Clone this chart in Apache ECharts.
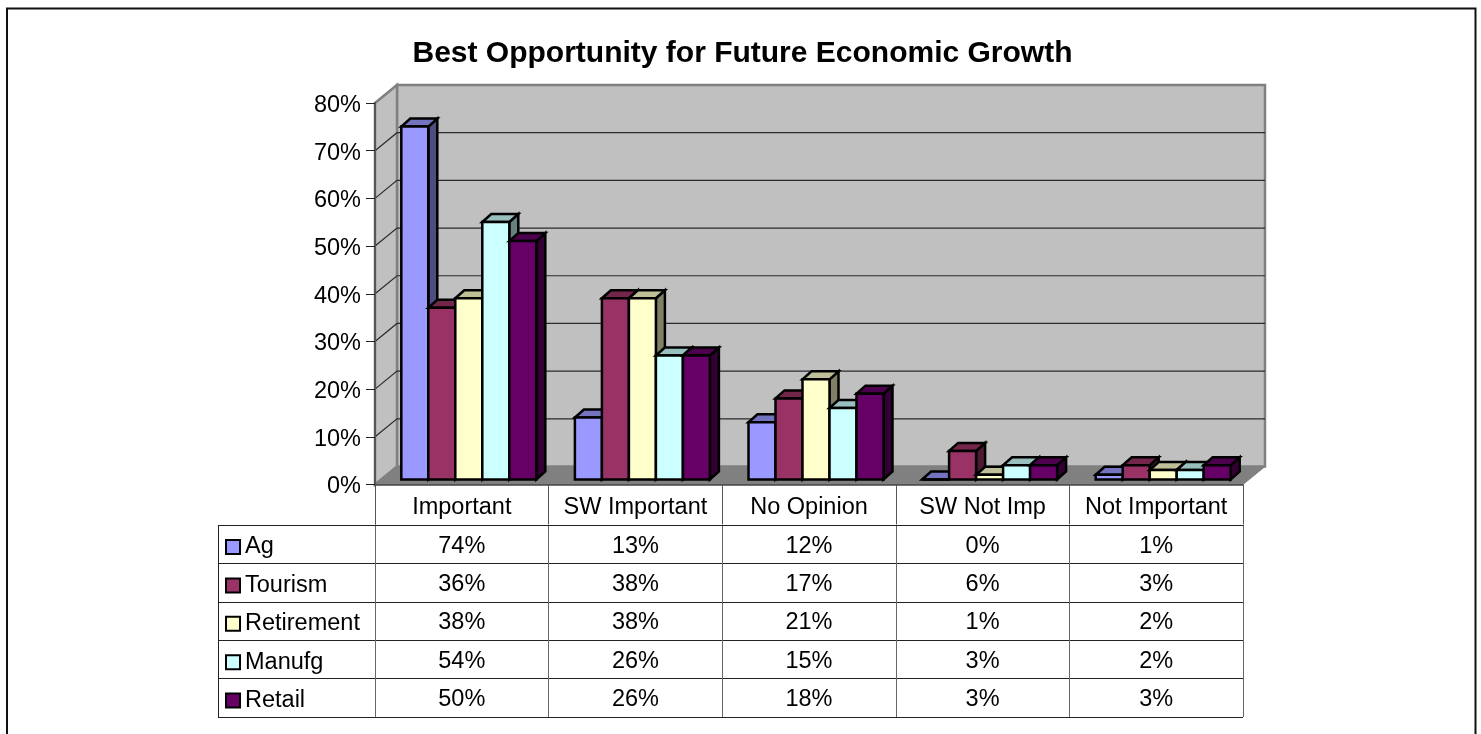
<!DOCTYPE html>
<html><head><meta charset="utf-8">
<style>html,body{margin:0;padding:0;background:#fff;overflow:hidden}#c{width:1481px;height:734px}</style>
<script src="https://cdn.jsdelivr.net/npm/echarts@6/dist/echarts.min.js"></script>
</head><body><div id="c"></div>
<script>
const titleText = 'Best Opportunity for Future Economic Growth';
const categories = ['Important','SW Important','No Opinion','SW Not Imp','Not Important'];
const seriesNames = ['Ag','Tourism','Retirement','Manufg','Retail'];
const ag = [74,13,12,0,1];
const tourism = [36,38,17,6,3];
const retirement = [38,38,21,1,2];
const manufg = [54,26,15,3,2];
const retail = [50,26,18,3,3];
const values = [ag,tourism,retirement,manufg,retail];
const yTicks = [0,10,20,30,40,50,60,70,80];
const faceColors = ['#9999FF','#993366','#FFFFCC','#CCFFFF','#660066'];
const topColors = ['#7373BF','#732649','#BFBF99','#99BFBF','#4D004D'];
const sideColors = ['#4D4D80','#4D1A33','#808066','#668080','#330033'];

const FONT = '"Liberation Sans", Arial, sans-serif';
const FS = 23.5;
const G = {left:375, top:103, width:868, height:381.5};
const T = {left:375, top:525, width:868, height:192};
const wallD = [22,-18], barOff = [7,-5], barD = [9,-8], barW = 27;

function pts(a){return a.map(p=>[p[0],p[1]]);}
function poly(points,fill,stroke,lw){
  return {type:'polygon',shape:{points:pts(points)},style:{fill:fill,stroke:stroke,lineWidth:lw,lineJoin:'miter'}};
}
function renderWalls(params,api){
  const x0 = params.coordSys.x, x1 = x0+params.coordSys.width;
  const yb = api.coord([0,0])[1], yt = api.coord([0,80])[1];
  const dx=wallD[0], dy=wallD[1], ch=[];
  ch.push(poly([[x0+dx,yt+dy],[x1+dx,yt+dy],[x1+dx,yb+dy],[x0+dx,yb+dy]],'#C0C0C0','#808080',2.5));
  ch.push(poly([[x0,yt],[x0+dx,yt+dy],[x0+dx,yb+dy],[x0,yb]],'#C0C0C0','#808080',2.5));
  ch.push(poly([[x0,yb],[x0+dx,yb+dy],[x1+dx,yb+dy],[x1,yb]],'#808080','#808080',1));
  yTicks.slice(1,-1).forEach(v=>{
    const y=api.coord([0,v])[1];
    ch.push({type:'polyline',shape:{points:[[x0,y],[x0+dx,y+dy],[x1+dx,y+dy]]},style:{fill:null,stroke:'#2b2b2b',lineWidth:1.2}});
  });
  return {type:'group',children:ch};
}
function barRenderer(si){
  return function(params,api){
    const cat=api.value(0), val=api.value(1);
    const bandW=api.size([1,0])[0];
    const base=api.coord([cat,0]), top=api.coord([cat,val]);
    const x=base[0]-bandW/2+19.3+barOff[0]+si*barW;
    const yb=base[1]+barOff[1], yt=top[1]+barOff[1];
    const dx=barD[0], dy=barD[1], w=barW;
    const st={stroke:'#000',lw:2.5};
    return {type:'group',children:[
      poly([[x+w,yt],[x+w+dx,yt+dy],[x+w+dx,yb+dy],[x+w,yb]],sideColors[si],st.stroke,st.lw),
      poly([[x,yt],[x+dx,yt+dy],[x+w+dx,yt+dy],[x+w,yt]],topColors[si],st.stroke,st.lw),
      poly([[x,yt],[x+w,yt],[x+w,yb],[x,yb]],faceColors[si],st.stroke,st.lw)
    ]};
  };
}
const cellData=[];
values.forEach((row,r)=>row.forEach((v,c)=>cellData.push([c,r,v])));
function renderCell(params,api){
  const p=api.coord([api.value(0),api.value(1)]);
  return {type:'text',x:p[0],y:p[1]+2,style:{text:api.value(2)+'%',fill:'#000',font:FS+'px '+FONT,textAlign:'center',textVerticalAlign:'middle'}};
}
const chart=echarts.init(document.getElementById('c'),null,{renderer:'canvas'});
chart.setOption({
  animation:false,
  backgroundColor:'#fff',
  title:{text:titleText,left:737.5,top:34,textAlign:'center',textStyle:{fontFamily:FONT,fontWeight:'bold',fontSize:30,color:'#000'}},
  legend:{orient:'vertical',left:225,top:535,itemWidth:14,itemHeight:14,itemGap:14.4,padding:0,
    data:seriesNames.map(n=>({name:n,icon:'rect'})),selectedMode:false,
    itemStyle:{borderWidth:2,borderColor:'#000'},
    textStyle:{fontFamily:FONT,fontSize:FS,lineHeight:24,color:'#000',padding:[0,0,0,0]}},
  graphic:[
    {type:'polyline',silent:true,z:-1,shape:{points:[[7,745],[7,8.5],[1475.5,8.5],[1475.5,745]]},style:{fill:'none',stroke:'#111',lineWidth:2}},
    {type:'line',silent:true,shape:{x1:218.5,y1:525,x2:218.5,y2:717},style:{stroke:'#222',lineWidth:1}}
  ],
  grid:[
    Object.assign({},G),
    Object.assign({},T)
  ],
  xAxis:[
    {type:'category',gridIndex:0,data:categories,z:5,
      axisLine:{lineStyle:{color:'#444',width:1.5}},
      axisTick:{show:true,length:40,alignWithLabel:false,lineStyle:{color:'#555',width:1}},
      axisLabel:{color:'#000',fontFamily:FONT,fontSize:FS,margin:11,interval:0}},
    {type:'category',gridIndex:1,data:categories,position:'top',
      axisLine:{lineStyle:{color:'#222'}},axisTick:{show:false},axisLabel:{show:false},
      splitLine:{show:true,interval:0,lineStyle:{color:'#666',width:1}}}
  ],
  yAxis:[
    {type:'value',gridIndex:0,min:0,max:80,interval:10,z:5,
      axisLine:{show:true,lineStyle:{color:'#555',width:2}},
      axisTick:{show:true,length:9,lineStyle:{color:'#222'}},
      axisLabel:{margin:14,formatter:v=>'{v|'+v+'%}',
        rich:{v:{color:'#000',fontFamily:FONT,fontSize:FS,lineHeight:24,padding:[5,0,0,0]}}},
      splitLine:{show:false}},
    {type:'category',gridIndex:1,data:seriesNames,inverse:true,
      axisLine:{lineStyle:{color:'#666'}},
      axisTick:{show:true,length:157,alignWithLabel:false,lineStyle:{color:'#222'}},
      axisLabel:{show:false},
      splitLine:{show:true,interval:0,lineStyle:{color:'#222',width:1}}}
  ],
  series:[
    {type:'custom',name:'walls',xAxisIndex:0,yAxisIndex:0,z:1,silent:true,clip:false,renderItem:renderWalls,data:[[0,0]],encode:{x:0,y:1}},
    ...seriesNames.map((n,si)=>({
      type:'custom',name:n,xAxisIndex:0,yAxisIndex:0,z:2,silent:true,clip:false,
      itemStyle:{color:faceColors[si],borderColor:'#000',borderWidth:2},
      renderItem:barRenderer(si),encode:{x:0,y:1},
      data:categories.map((c,i)=>[i,values[si][i]])
    })),
    {type:'custom',name:'table',xAxisIndex:1,yAxisIndex:1,z:3,silent:true,clip:false,renderItem:renderCell,encode:{x:0,y:1},data:cellData}
  ]
});
</script></body></html>
